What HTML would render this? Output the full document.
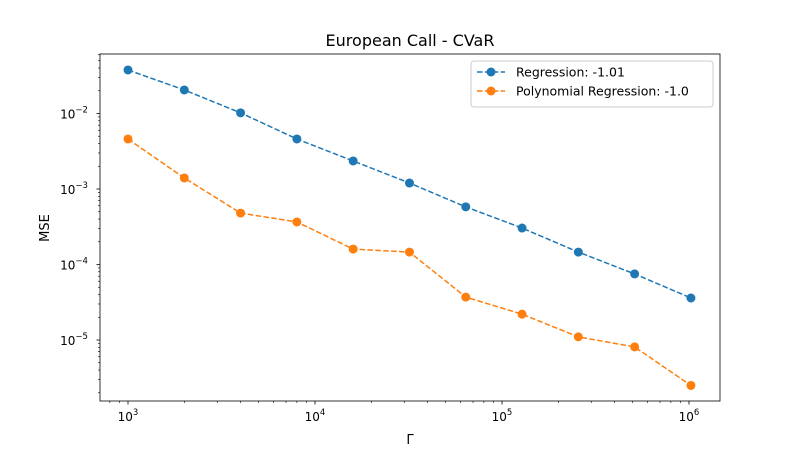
<!DOCTYPE html>
<html><head><meta charset="utf-8"><style>
body{margin:0;background:#fff;font-family:"Liberation Sans","DejaVu Sans",sans-serif}
svg text{font-family:"DejaVu Sans","Liberation Sans",sans-serif}
</style></head><body>
<svg id="chart" width="800" height="450" xmlns="http://www.w3.org/2000/svg"></svg>
<script>
const gammas=[1000,2000,4000,8000,16000,32000,64000,128000,256000,512000,1024000];
const regression=[3.77e-2,2.05e-2,1.02e-2,4.6e-3,2.35e-3,1.2e-3,5.8e-4,3.04e-4,1.46e-4,7.5e-5,3.6e-5];
const polyRegression=[4.6e-3,1.4e-3,4.8e-4,3.66e-4,1.6e-4,1.46e-4,3.7e-5,2.2e-5,1.1e-5,8.1e-6,2.5e-6];
const seriesLabels=["Regression: -1.01","Polynomial Regression: -1.0"];
const xTickExps=[3,4,5,6];
const yTickExps=[-2,-3,-4,-5];

const NS="http://www.w3.org/2000/svg";
const svg=document.getElementById('chart');
const L=100,R=720,T=54,B=401;
function xs(v){return 128+187*(Math.log10(v)-3);}
function ys(v){return 113.5+75.5*(-2-Math.log10(v));}
function mk(tag,attrs,parent){const e=document.createElementNS(NS,tag);for(const k in attrs)e.setAttribute(k,attrs[k]);(parent||svg).appendChild(e);return e;}

const title=mk('text',{x:410,y:46,'text-anchor':'middle','font-size':16,fill:'#000'});
title.textContent='European Call - CVaR';



// minor ticks x
for(let e=2;e<=6;e++){for(let m=2;m<10;m++){const x=xs(m*Math.pow(10,e));if(x<L||x>R)continue;
const t=mk('line',{x1:x,x2:x,y1:B,y2:B+2,stroke:'#000','stroke-width':0.6});

}}
// minor ticks y
for(let e=-7;e<=-1;e++){for(let m=2;m<10;m++){const y=ys(m*Math.pow(10,e));if(y<T||y>B)continue;
const t=mk('line',{x1:L-2,x2:L,y1:y,y2:y,stroke:'#000','stroke-width':0.6});

}}

xTickExps.forEach(e=>{const x=xs(Math.pow(10,e));
const t=mk('line',{x1:x,x2:x,y1:B,y2:B+3.5,stroke:'#000','stroke-width':0.8});


const tx=mk('text',{x:x,y:B+20,'text-anchor':'middle','font-size':12});
tx.innerHTML='10<tspan dy="-6" font-size="8.5">'+e+'</tspan>';

});
yTickExps.forEach(e=>{const y=ys(Math.pow(10,e));
const t=mk('line',{x1:L-3.5,x2:L,y1:y,y2:y,stroke:'#000','stroke-width':0.8});


const tx=mk('text',{x:L-26,y:y+5,'text-anchor':'middle','font-size':12});
tx.innerHTML='10<tspan dy="-6" font-size="8.5">\u2212'+(-e)+'</tspan>';

});

const colors=['#1f77b4','#ff7f0e'];
[regression,polyRegression].forEach((s,i)=>{
const g=mk('g',{});


const pts=s.map((v,j)=>xs(gammas[j])+','+ys(v)).join(' ');
const pl=mk('polyline',{points:pts,fill:'none',stroke:colors[i],'stroke-width':1.5,'stroke-dasharray':'5.5,2.4'},g);


s.forEach((v,j)=>{const c=mk('circle',{cx:xs(gammas[j]),cy:ys(v),r:4.5,fill:colors[i]},g);

});});

const frame=mk('rect',{x:L,y:T,width:R-L,height:B-T,fill:'none',stroke:'#000','stroke-width':0.8});



const xl=mk('text',{x:410,y:444,'text-anchor':'middle','font-size':13});
xl.textContent='Γ';


const yl=mk('text',{x:49,y:228,'text-anchor':'middle','font-size':13,transform:'rotate(-90 49 228)'});
yl.textContent='MSE';



const lg=mk('g',{});


mk('rect',{x:471,y:61,width:242,height:46,rx:3,fill:'#fff',stroke:'#ccc','stroke-width':1},lg);
seriesLabels.forEach((lab,i)=>{const y=72+i*19;
const e=mk('g',{},lg);


mk('line',{x1:477,x2:505,y1:y,y2:y,stroke:colors[i],'stroke-width':1.5,'stroke-dasharray':'5.5,2.4'},e);
mk('circle',{cx:491,cy:y,r:4.5,fill:colors[i]},e);
const t=mk('text',{x:516,y:y+4.5,'font-size':12.5},e);t.textContent=lab;});
</script>
</body></html>
